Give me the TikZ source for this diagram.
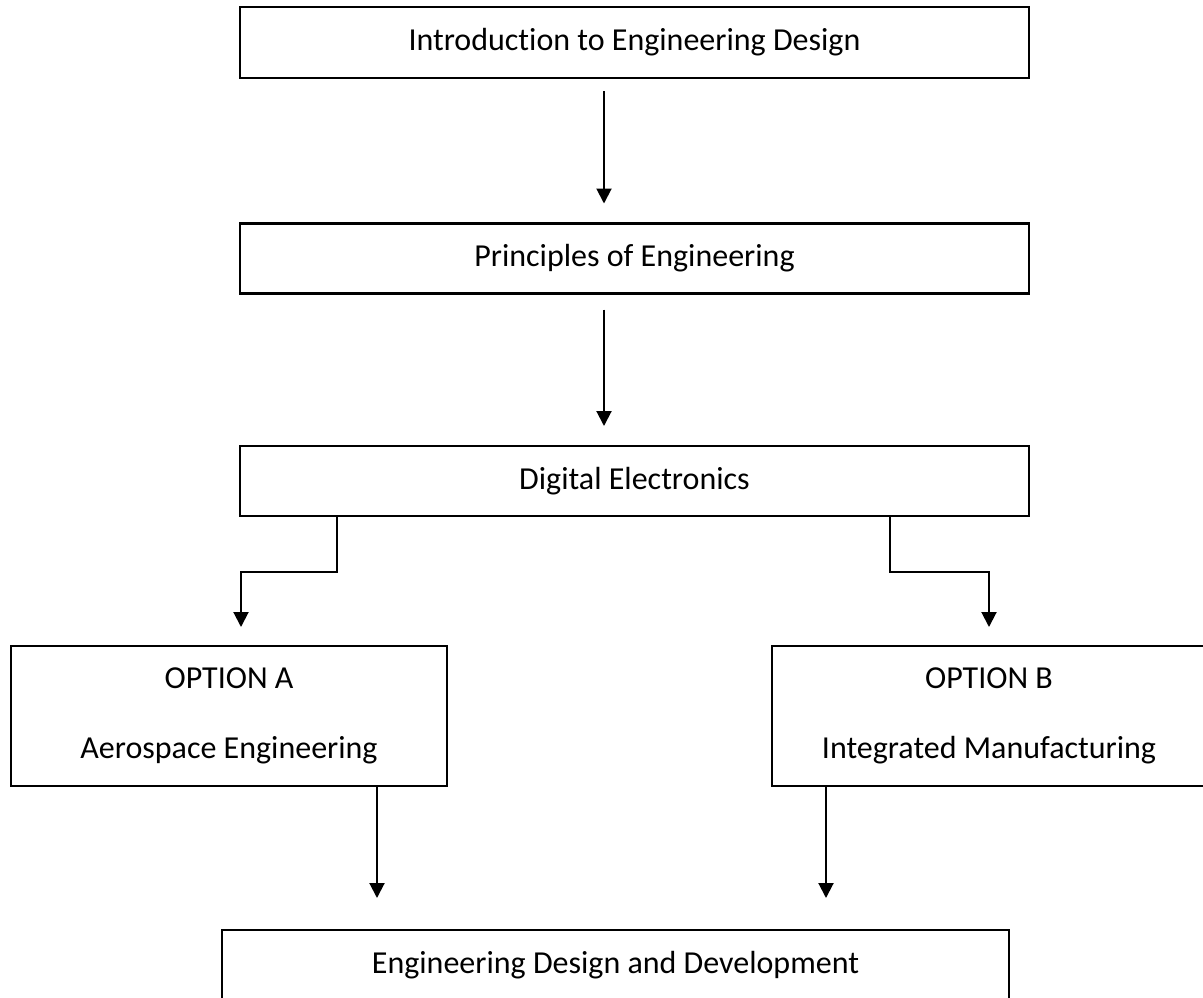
\documentclass[tikz,border=0pt]{standalone}
\usepackage{fontspec}
\setmainfont{Carlito}[Ligatures={NoCommon}]
\usetikzlibrary{arrows.meta,calc}
\begin{document}
\begin{tikzpicture}[x=1pt,y=-1pt,
  box/.style={draw=black, line width=2.6pt, inner sep=0pt, outer sep=0pt,
    font=\fontsize{32}{38}\selectfont, text height=22pt, text depth=6pt},
  optbox/.style={draw=black, line width=2.6pt, inner sep=0pt, outer sep=0pt,
    align=center, font=\fontsize{32}{70}\selectfont},
  arr/.style={line width=2pt, -{Triangle[length=15pt,width=15pt]}}]
\useasboundingbox (0,0) rectangle (1203,997);
\node[box, minimum width=789pt, minimum height=71pt] (b1) at (634.5,42.5) {Introduction to Engineering Design};
\node[box, minimum width=789pt, minimum height=70pt] (b2) at (634.5,258.5) {Principles of Engineering};
\node[box, minimum width=789pt, minimum height=70pt] (b3) at (634.5,481) {Digital Electronics};
\node[optbox, minimum width=436pt, minimum height=140pt] (bA) at (229,716) {OPTION A\\Aerospace Engineering};
\node[optbox, minimum width=434pt, minimum height=140pt] (bB) at (989,716) {OPTION B\\Integrated Manufacturing};
\node[box, minimum width=787pt, minimum height=71pt] (b6) at (615.5,965.5) {Engineering Design and Development};
\draw[arr] ([xshift=-30.5pt,yshift=-13pt]b1.south) -- ([xshift=-30.5pt,yshift=20pt]b2.north);
\draw[arr] ([xshift=-30.5pt,yshift=-16pt]b2.south) -- ([xshift=-30.5pt,yshift=20pt]b3.north);
\draw[arr] ([xshift=-297.5pt]b3.south) -- ++(0,56) -| ([xshift=12pt,yshift=19pt]bA.north);
\draw[arr] ([xshift=255.5pt]b3.south) -- ++(0,56) -| ([yshift=19pt]bB.north);
\draw[arr] ([xshift=148pt]bA.south) -- ([xshift=-238.5pt,yshift=32pt]b6.north);
\draw[arr] ([xshift=-163pt]bB.south) -- ([xshift=210.5pt,yshift=32pt]b6.north);
\end{tikzpicture}
\end{document}
